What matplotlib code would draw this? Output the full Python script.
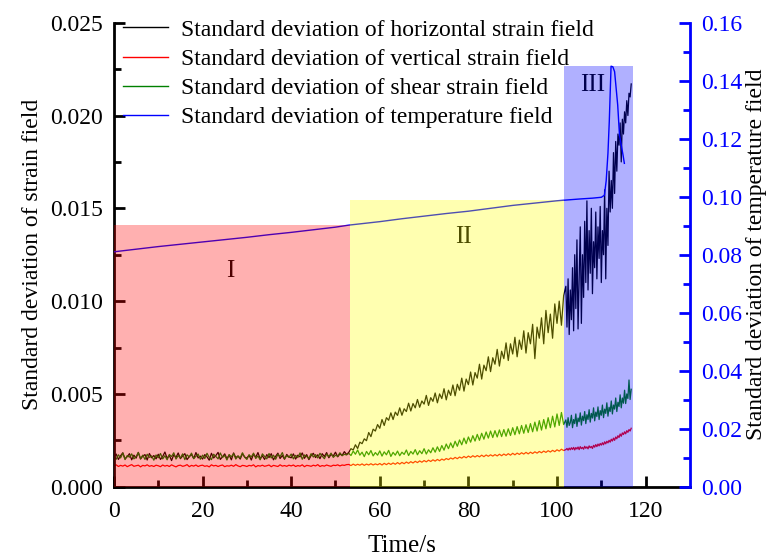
import numpy as np
import matplotlib.pyplot as plt
from matplotlib.lines import Line2D

plt.rcParams['font.family'] = ['Liberation Serif', 'DejaVu Serif']

# sampled every 0.5 s up to 101.5 s, then every 0.25 s; values in units of 1e-5
time = np.concatenate([np.arange(204) * 0.5, 102 + np.arange(60) * 0.25])

horizontal = [
    158, 176, 147, 167, 183, 150, 162, 178, 145, 170, 154, 185, 149, 165, 173, 144, 179, 156, 168, 150,
    175, 147, 163, 187, 153, 169, 141, 172, 158, 182, 151, 166, 178, 146, 162, 174, 152, 184, 155, 165,
    149, 173, 161, 143, 180, 155, 168, 185, 147, 161, 177, 151, 171, 145, 182, 157, 165, 149, 178, 160,
    154, 170, 144, 176, 159, 184, 150, 167, 147, 173, 157, 178, 145, 164, 181, 152, 168, 148, 174, 160,
    156, 177, 149, 170, 161, 182, 153, 173, 146, 168, 180, 157, 172, 151, 178, 163, 184, 156, 174, 166,
    186, 161, 177, 168, 189, 174,
    185, 205, 198, 226, 206, 240, 232, 258, 248, 292, 270,
    310, 300, 335, 315, 362, 330, 372, 358, 398, 362,
    402, 384, 425, 385, 420, 405, 450, 408, 448, 425,
    470, 428, 462, 445, 492, 438, 480, 460, 505, 452,
    500, 475, 528, 468, 520, 492, 548, 490, 552, 520,
    585, 515, 580, 550, 618, 548, 615, 585, 660, 580,
    655, 625, 700, 620, 695, 660, 740, 650, 730, 690,
    775, 680, 770, 715, 805, 700, 790, 740, 840, 720,
    830, 770, 875, 690, 860, 800, 910, 770, 950, 830,
    930, 800, 985, 880, 1000, 870, 1030,
    1080, 860, 1120, 820, 1060, 900, 1180, 840, 1250, 960,
    1330, 850, 1120, 1400, 880, 1250, 1020, 1430, 1100, 1540,
    1060, 1380, 1150, 1500, 1040, 1320, 1180, 1480, 1120, 1400,
    1230, 1510, 1100, 1380, 1250, 1600, 1120, 1500, 1300, 1700,
    1480, 1650, 1500, 1800, 1580, 1860, 1700, 1900, 1840, 1960,
    1750, 1980, 1900, 2020, 1960, 2080, 2000, 2120, 2100, 2170,
]

vertical = [
    112, 118, 109, 115, 111, 117, 108, 114, 119, 110, 113, 116, 107, 115, 112, 118, 110, 114, 109, 116,
    113, 108, 117, 111, 115, 109, 118, 112, 107, 114, 116, 110, 113, 119, 108, 115, 111, 117, 109, 114,
    116, 110, 113, 107, 118, 112, 115, 109, 114, 117, 108, 113, 111, 116, 110, 119, 112, 108, 115, 113,
    109, 115, 112, 118, 107, 114, 111, 116, 110, 113, 117, 108, 115, 112, 109, 118, 111, 114, 110, 116,
    112, 117, 109, 114, 111, 118, 108, 115, 113, 110, 116, 112, 119, 109, 114, 111, 117, 113, 110, 116,
    114, 118, 112, 117, 115, 119,
    120, 114, 122, 115, 121, 116, 123, 115, 122, 117,
    124, 117, 123, 118, 125, 117, 126, 119, 127, 120,
    128, 121, 130, 122, 131, 124, 133, 126, 135, 128,
    137, 130, 139, 132, 141, 134, 143, 136, 145, 138,
    147, 140, 149, 143, 152, 146, 155, 149, 158, 151,
    160, 154, 163, 156, 165, 158, 167, 160, 168, 161,
    170, 162, 171, 164, 172, 165, 173, 166, 175, 167,
    176, 169, 178, 170, 180, 172, 181, 174, 183, 176,
    185, 177, 186, 179, 188, 181, 190, 183, 192, 185,
    194, 187, 196, 189, 199, 192, 202, 195,
    200, 206, 197, 208, 199, 210, 201, 212, 198, 211,
    203, 214, 200, 216, 205, 212, 202, 218, 207, 215,
    204, 220, 210, 217, 206, 223, 213, 227, 216, 230,
    220, 233, 224, 237, 226, 242, 231, 245, 236, 250,
    240, 256, 246, 262, 250, 268, 258, 275, 265, 284,
    272, 290, 281, 296, 285, 302, 293, 308, 300, 315,
]

shear = [
    165, 148, 172, 155, 181, 146, 168, 159, 177, 150, 163, 184, 152, 170, 147, 175, 158, 166, 143, 171,
    156, 179, 150, 167, 145, 174, 162, 183, 149, 168, 155, 177, 146, 172, 160, 181, 151, 164, 176, 148,
    170, 152, 180, 158, 146, 175, 163, 150, 182, 157, 169, 144, 173, 161, 178, 149, 166, 155, 183, 159,
    147, 172, 160, 181, 152, 166, 145, 177, 163, 150, 179, 155, 170, 148, 175, 162, 184, 151, 167, 158,
    176, 150, 169, 157, 182, 148, 171, 163, 152, 178, 160, 173, 155, 180, 165, 151, 176, 162, 181, 158,
    170, 164, 183, 167, 175, 171,
    180, 168, 192, 175, 198, 170, 186, 162, 190, 172,
    195, 166, 184, 170, 193, 165, 188, 172, 196, 163,
    185, 170, 192, 167, 186, 174, 198, 168, 190, 176,
    200, 172, 194, 178, 205, 176, 199, 183, 210, 186,
    215, 190, 222, 197, 230, 205, 236, 210, 245, 218,
    252, 226, 262, 232, 268, 240, 275, 246, 282, 250,
    288, 256, 295, 262, 300, 265, 302, 268, 306, 270,
    308, 272, 312, 276, 318, 280, 324, 285, 330, 288,
    334, 292, 340, 296, 348, 300, 356, 305, 362, 312,
    372, 318, 380, 322, 392, 330, 400, 335,
    360, 320, 372, 330, 345, 385, 318, 362, 340, 392,
    325, 370, 350, 398, 332, 380, 356, 405, 340, 388,
    362, 415, 348, 395, 370, 425, 355, 402, 378, 430,
    362, 410, 385, 440, 372, 418, 395, 452, 380, 428,
    405, 462, 392, 440, 418, 478, 405, 455, 432, 495,
    425, 478, 450, 520, 448, 500, 475, 575, 470, 525,
]

temp_time = [0, 5, 10, 15, 20, 25, 30, 35, 40, 45, 50, 53, 60, 65, 70, 75, 80, 85, 90,
             95, 100, 105, 108, 110, 110.7, 111.1, 111.5, 111.8, 112.2, 112.6, 113.0,
             113.7, 114.1, 114.9, 115.2]
temperature = [0.0810, 0.0819, 0.0828, 0.0836, 0.0844, 0.0852, 0.0860, 0.0869, 0.0877,
               0.0886, 0.0895, 0.0902, 0.0914, 0.0924, 0.0933, 0.0942, 0.0950, 0.0960,
               0.0970, 0.0978, 0.0986, 0.0992, 0.0995, 0.0998, 0.1005, 0.1055, 0.1150,
               0.1260, 0.1450, 0.1448, 0.1431, 0.1316, 0.1213, 0.1144, 0.1115]

# stage spans: start, end, top (in temperature units)
stages = ['I', 'II', 'III']
stage_start = [0, 53.2, 101.6]
stage_end = [53.2, 101.6, 117.1]
stage_top = [0.0901, 0.0989, 0.1451]
stage_color = ['#ff0000', '#ffff00', '#0000ff']
stage_label_x = [26.2, 79, 108]
stage_label_y = [0.0745, 0.0860, 0.1385]
stage_label_color = ['#4d0000', '#4d4d00', '#00004d']

labels = ['Standard deviation of horizontal strain field',
          'Standard deviation of vertical strain field',
          'Standard deviation of shear strain field',
          'Standard deviation of temperature field']

fig = plt.figure(figsize=(7.7, 5.59), dpi=100)
ax = fig.add_axes([0.148, 0.1293, 0.748, 0.8301])
ax2 = ax.twinx()

ax.plot(time, np.array(horizontal) * 1e-5, color='black', lw=0.9)
ax.plot(time, np.array(vertical) * 1e-5, color='red', lw=0.9)
ax.plot(time, np.array(shear) * 1e-5, color='#008000', lw=0.9)

ax2.plot(temp_time, temperature, color='blue', lw=1.0, zorder=2)
for x0, x1, top, c in zip(stage_start, stage_end, stage_top, stage_color):
    ax2.fill_between([x0, x1], 0, top, color=c, alpha=0.31, lw=0, zorder=3)
for s, x, y, c in zip(stages, stage_label_x, stage_label_y, stage_label_color):
    ax2.text(x, y, s, fontsize=18, ha='center', va='center', color=c, zorder=4)

ax.set_xlim(0, 130)
ax.set_ylim(0, 0.025)
ax2.set_ylim(0, 0.16)
ax.set_xticks(np.arange(0, 121, 20))
ax.set_xticks(np.arange(10, 121, 20), minor=True)
ax.set_yticks(np.arange(0, 0.0251, 0.005))
ax.set_yticks(np.arange(0.0025, 0.025, 0.005), minor=True)
ax.set_yticklabels(['0.000', '0.005', '0.010', '0.015', '0.020', '0.025'])
ax2.set_yticks(np.arange(0, 0.161, 0.02))
ax2.set_yticks(np.arange(0.01, 0.16, 0.02), minor=True)
ax2.set_yticklabels(['0.00', '0.02', '0.04', '0.06', '0.08', '0.10', '0.12', '0.14', '0.16'])

for a in (ax, ax2):
    a.spines['top'].set_visible(False)
    for sp in a.spines.values():
        sp.set_linewidth(2)
ax.spines['right'].set_visible(False)
ax2.spines['left'].set_visible(False)
ax2.spines['bottom'].set_visible(False)
ax2.spines['right'].set_color('blue')

ax.tick_params(which='both', direction='in', width=2, labelsize=17, pad=8)
ax.tick_params(which='major', length=8)
ax.tick_params(which='minor', length=5)
ax.tick_params(axis='x', pad=10)
ax2.tick_params(which='both', direction='in', width=2, labelsize=17, colors='blue', pad=8)
ax2.tick_params(which='major', length=8)
ax2.tick_params(which='minor', length=5)

ax.set_xlabel('Time/s', fontsize=18, labelpad=10)
ax.set_ylabel('Standard deviation of strain field', fontsize=17, labelpad=5)
ax2.set_ylabel('Standard deviation of temperature field', fontsize=17, labelpad=3)

handles = [Line2D([], [], color=c, lw=1) for c in ['black', 'red', '#008000', 'blue']]
ax2.legend(handles, labels, loc='upper left', bbox_to_anchor=(0.1597, 0.966),
           bbox_transform=fig.transFigure, frameon=False, fontsize=17,
           borderpad=0, borderaxespad=0, handlelength=1.9, handletextpad=0.55,
           labelspacing=0.33)

fig.savefig('out.png', dpi=100)
